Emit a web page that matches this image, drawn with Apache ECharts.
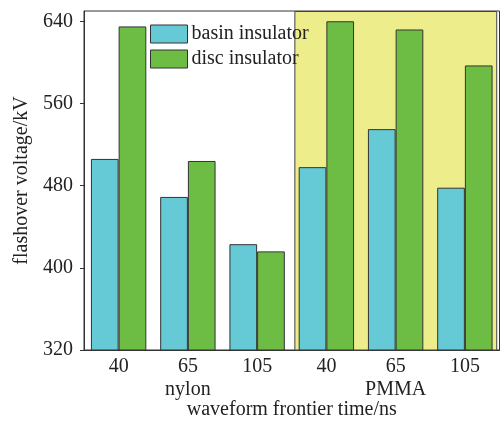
<!DOCTYPE html>
<html>
<head>
<meta charset="utf-8">
<script src="https://cdn.jsdelivr.net/npm/echarts@6/dist/echarts.min.js"></script>
<style>
  html, body { margin: 0; padding: 0; background: #fff; }
  #chart { width: 502px; height: 425px; }
</style>
</head>
<body>
<div id="chart"></div>
<script>
// data
const categories = ['40', '65', '105', '40', '65', '105'];
const groups = ['nylon', 'PMMA'];
const basinValues = [506, 469, 423, 498, 535, 478];
const discValues = [635, 504, 416, 640, 632, 597];
const seriesNames = ['basin insulator', 'disc insulator'];
// shaded PMMA band, in category units on the hidden value axis
const shadeRange = [3.045, 5.96];

document.addEventListener('DOMContentLoaded', function() {
  const chart = echarts.init(document.getElementById('chart'));
  const font = 'Liberation Serif, Times New Roman, serif';
  const option = {
    animation: false,
    textStyle: { fontFamily: font },
    legend: {
      data: seriesNames,
      orient: 'vertical',
      left: 145,
      top: 19,
      icon: 'rect',
      itemWidth: 37,
      itemHeight: 18,
      itemGap: 5,
      itemStyle: { borderColor: '#333', borderWidth: 1 },
      textStyle: { fontFamily: font, fontSize: 20, color: '#222', padding: [0, 0, 0, -1] }
    },
    grid: {
      left: 84,
      right: 2.5,
      top: 11,
      bottom: 74,
      show: true,
      borderColor: '#333',
      borderWidth: 1
    },
    xAxis: [
      {
        type: 'category',
        data: categories,
        name: 'waveform frontier time/ns',
        nameLocation: 'middle',
        nameGap: 50,
        nameTextStyle: { fontFamily: font, fontSize: 20, color: '#222' },
        axisLine: { lineStyle: { color: '#333' } },
        axisTick: { show: false },
        axisLabel: { fontFamily: font, fontSize: 20, color: '#222', margin: 7 }
      },
      {
        type: 'value',
        min: 0,
        max: 6,
        show: false
      },
      {
        type: 'category',
        data: groups,
        position: 'bottom',
        offset: 22,
        axisLine: { show: false },
        axisTick: { show: false },
        axisLabel: { fontFamily: font, fontSize: 20, color: '#222', margin: 8 }
      }
    ],
    yAxis: {
      type: 'value',
      min: 320,
      max: 650,
      interval: 80,
      name: 'flashover voltage/kV',
      nameLocation: 'middle',
      nameGap: 48,
      nameTextStyle: { fontFamily: font, fontSize: 20, color: '#222' },
      splitLine: { show: false },
      axisLine: { show: true, lineStyle: { color: '#333' } },
      axisTick: { show: true, length: 4, lineStyle: { color: '#333' } },
      axisLabel: { fontFamily: font, fontSize: 20, color: '#222', margin: 11, showMaxLabel: false }
    },
    series: [
      {
        name: 'shade',
        type: 'line',
        xAxisIndex: 1,
        data: [],
        silent: true,
        markArea: {
          silent: true,
          itemStyle: { color: '#eeed8b', borderColor: '#444', borderWidth: 1 },
          data: [[{ coord: [shadeRange[0], 649.5] }, { coord: [shadeRange[1], 320] }]]
        }
      },
      {
        name: seriesNames[0],
        type: 'bar',
        data: basinValues,
        barGap: '0%',
        barCategoryGap: '20%',
        itemStyle: { color: '#66c9d6', borderColor: '#333', borderWidth: 1 }
      },
      {
        name: seriesNames[1],
        type: 'bar',
        data: discValues,
        barGap: '0%',
        barCategoryGap: '20%',
        itemStyle: { color: '#6dbd45', borderColor: '#333', borderWidth: 1 }
      }
    ]
  };
  chart.setOption(option);
  window.addEventListener('resize', function() {
    chart.resize();
  });
});
</script>
</body>
</html>
